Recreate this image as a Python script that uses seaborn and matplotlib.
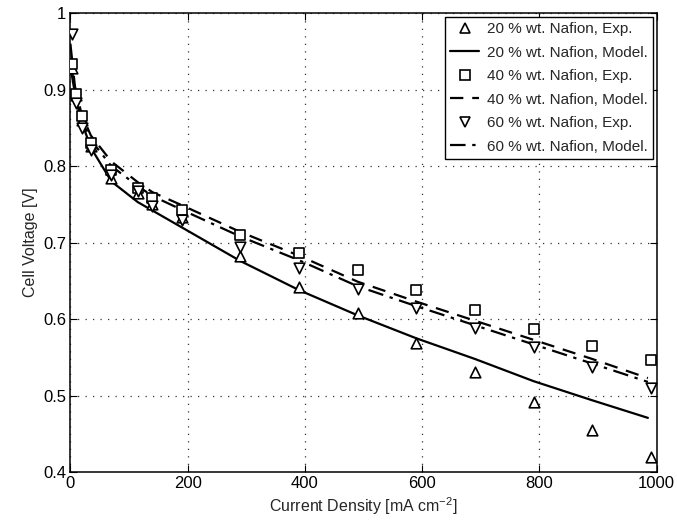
import matplotlib
matplotlib.use("Agg")
import matplotlib.pyplot as plt
import seaborn as sns
import pandas as pd
from matplotlib.ticker import FuncFormatter
from matplotlib.lines import Line2D

# ---- data ----
x_exp = [3, 10, 20, 35, 70, 115, 140, 190, 290, 390, 490, 590, 690, 790, 890, 990]
v_exp_20 = [0.928, 0.893, 0.860, 0.827, 0.785, 0.765, 0.750, 0.734, 0.683, 0.642, 0.608, 0.569, 0.531, 0.492, 0.455, 0.420]
v_exp_40 = [0.934, 0.895, 0.865, 0.830, 0.795, 0.771, 0.759, 0.743, 0.710, 0.686, 0.664, 0.638, 0.612, 0.587, 0.565, 0.547]
v_exp_60 = [0.973, 0.882, 0.850, 0.821, 0.788, 0.768, 0.748, 0.730, 0.694, 0.667, 0.639, 0.614, 0.588, 0.564, 0.538, 0.510]

x_model = [0, 10, 20, 35, 70, 115, 140, 190, 290, 390, 490, 590, 690, 790, 890, 985]
v_mod_20 = [0.930, 0.885, 0.856, 0.824, 0.780, 0.753, 0.742, 0.720, 0.676, 0.638, 0.605, 0.575, 0.548, 0.519, 0.494, 0.471]
v_mod_40 = [0.935, 0.895, 0.866, 0.840, 0.806, 0.779, 0.766, 0.749, 0.714, 0.683, 0.649, 0.623, 0.598, 0.573, 0.548, 0.523]
v_mod_60 = [0.960, 0.888, 0.860, 0.834, 0.800, 0.774, 0.761, 0.743, 0.708, 0.677, 0.643, 0.617, 0.592, 0.567, 0.542, 0.518]

labels_exp = ["20 % wt. Nafion, Exp.", "40 % wt. Nafion, Exp.", "60 % wt. Nafion, Exp."]
labels_mod = ["20 % wt. Nafion, Model.", "40 % wt. Nafion, Model.", "60 % wt. Nafion, Model."]
x_ticks = [0, 200, 400, 600, 800, 1000]
y_ticks = [0.4, 0.5, 0.6, 0.7, 0.8, 0.9, 1.0]

sns.set_theme(style="white")
plt.rcParams['font.family'] = ['Liberation Sans', 'DejaVu Sans']
plt.rcParams['mathtext.default'] = 'regular'

fig = plt.figure(figsize=(6.77, 5.27), dpi=100)
ax = fig.add_axes([0.104, 0.104, 0.866, 0.871])

markers = ['^', 's', 'v']
styles = ['-', (0, (6, 4)), (0, (7, 3, 1.5, 3))]
exps = [v_exp_20, v_exp_40, v_exp_60]
mods = [v_mod_20, v_mod_40, v_mod_60]

for i in range(3):
    dfm = pd.DataFrame({"x": x_model, "v": mods[i]})
    sns.lineplot(data=dfm, x="x", y="v", ax=ax, color="black", linewidth=1.6,
                 linestyle=styles[i], label=labels_mod[i], sort=False, zorder=2)
for i in range(3):
    dfe = pd.DataFrame({"x": x_exp, "v": exps[i]})
    sns.scatterplot(data=dfe, x="x", y="v", ax=ax, marker=markers[i], s=58,
                    facecolor="white", edgecolor="black", linewidth=1.2,
                    label=labels_exp[i], zorder=3)

leg_handles = []
leg_labels = []
for i in range(3):
    leg_handles.append(Line2D([], [], linestyle='none', marker=markers[i], markersize=7.5,
                              markerfacecolor='white', markeredgecolor='black', markeredgewidth=1.2))
    leg_labels.append(labels_exp[i])
    leg_handles.append(Line2D([], [], color='black', linewidth=1.6, linestyle=styles[i]))
    leg_labels.append(labels_mod[i])
leg = ax.legend(leg_handles, leg_labels, loc='upper right', fontsize=11, frameon=True,
                fancybox=False, edgecolor='black', framealpha=1, borderaxespad=0.25,
                handlelength=1.9, labelspacing=0.62, borderpad=0.35, handletextpad=0.5)
leg.get_frame().set_linewidth(1.0)

ax.set_xlim(0, 1000)
ax.set_ylim(0.4, 1.0)
ax.set_xticks(x_ticks)
ax.set_yticks(y_ticks)
ax.yaxis.set_major_formatter(FuncFormatter(lambda v, p: "1" if abs(v - 1) < 1e-9 else f"{v:.1f}"))
ax.grid(True, linestyle=(0, (1, 5)), color='black', linewidth=0.9, alpha=0.8)
ax.tick_params(direction='in', top=True, right=True, length=5, width=0.8,
               labelsize=12, colors='black', pad=3, bottom=True, left=True)
for s in ax.spines.values():
    s.set_color('black')
    s.set_linewidth(1.1)
ax.set_xlabel("Current Density [mA cm$^{-2}$]", fontsize=11.5, labelpad=3)
ax.set_ylabel("Cell Voltage [V]", fontsize=11.5, labelpad=4)

fig.savefig("out.png", dpi=100)
